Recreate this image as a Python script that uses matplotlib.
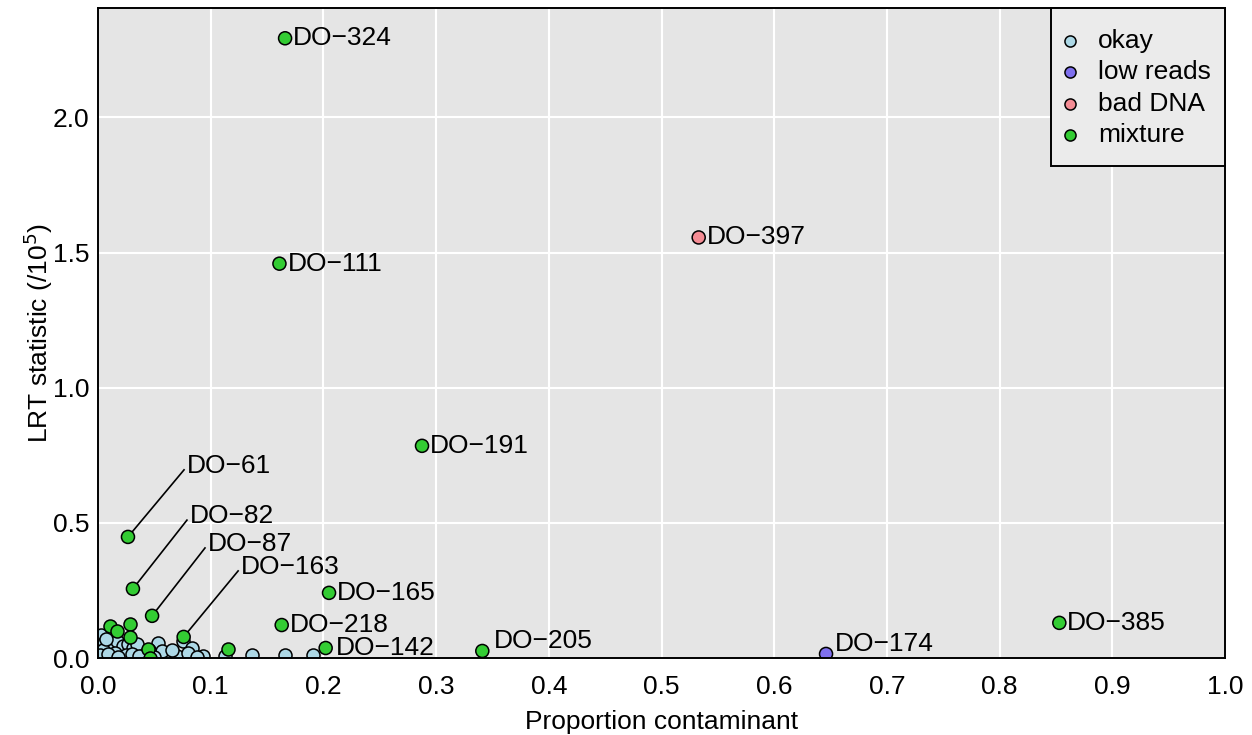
import numpy as np
import matplotlib
matplotlib.use("Agg")
import matplotlib.pyplot as plt
from matplotlib.patches import Rectangle

plt.rcParams["font.family"] = ["Liberation Sans", "DejaVu Sans"]

# --- data ---
okay_x = [0.003, 0.005, 0.008, 0.012, 0.017, 0.020, 0.022, 0.027, 0.031, 0.035,
          0.046, 0.053, 0.061, 0.070, 0.075, 0.083, 0.093, 0.113, 0.137, 0.166,
          0.191, 0.004, 0.010, 0.015, 0.025, 0.040, 0.057, 0.066, 0.080, 0.002,
          0.007, 0.030, 0.045, 0.009, 0.018, 0.036, 0.050, 0.088]
okay_y = [0.085, 0.056, 0.035, 0.052, 0.063, 0.018, 0.044, 0.052, 0.037, 0.052,
          0.015, 0.055, 0.008, 0.008, 0.062, 0.037, 0.006, 0.007, 0.012, 0.012,
          0.012, 0.030, 0.005, 0.020, 0.010, 0.003, 0.025, 0.030, 0.020, 0.010,
          0.070, 0.015, 0.030, 0.015, 0.004, 0.006, 0.002, 0.004]

mix_x = [0.011, 0.017, 0.028, 0.028, 0.044, 0.046, 0.115]
mix_y = [0.119, 0.100, 0.126, 0.078, 0.033, 0.000, 0.033]

# labelled samples: name, status, proportion, LRT (/1e5)
lab_names = ["DO-324", "DO-111", "DO-397", "DO-191", "DO-61", "DO-82", "DO-87",
             "DO-163", "DO-165", "DO-218", "DO-142", "DO-205", "DO-174", "DO-385"]
lab_status = ["mixture", "mixture", "bad DNA", "mixture", "mixture", "mixture",
              "mixture", "mixture", "mixture", "mixture", "mixture", "mixture",
              "low reads", "mixture"]
lab_x = [0.166, 0.161, 0.533, 0.2875, 0.0266, 0.031, 0.048, 0.076, 0.205, 0.163,
         0.202, 0.341, 0.646, 0.853]
lab_y = [2.293, 1.459, 1.556, 0.785, 0.448, 0.256, 0.156, 0.078, 0.241, 0.122,
         0.037, 0.026, 0.015, 0.130]

categories = ["okay", "low reads", "bad DNA", "mixture"]
colors = {"okay": "#ADD8E6", "low reads": "#7F70EE", "bad DNA": "#F48C94",
          "mixture": "#33CC33"}

# --- layout: label placement (offset in points) / leader-line label spots ---
px = 0.72  # points per pixel at dpi=100
offsets = {"DO-205": (12 * px, 10 * px), "DO-174": (9 * px, 10 * px),
           "DO-142": (10 * px, 0), }
leader = {"DO-61": (0.079, 0.711), "DO-82": (0.0816, 0.525),
          "DO-87": (0.0976, 0.422), "DO-163": (0.127, 0.337)}

W, H = 1252, 735
L, R, T, B = 98, 1225, 8, 658
fig = plt.figure(figsize=(W / 100, H / 100), dpi=100)
ax = fig.add_axes([L / W, 1 - B / H, (R - L) / W, (B - T) / H])
ax.set_facecolor("#E5E5E5")
ax.set_xlim(0, 1.0)
ax.set_ylim(0, 2.405)

xt = np.arange(0, 1.01, 0.1)
yt = np.arange(0, 2.01, 0.5)
for v in xt[1:-1]:
    ax.axvline(v, color="white", lw=1.5, zorder=0)
for v in yt[1:]:
    ax.axhline(v, color="white", lw=1.5, zorder=0)

ax.set_xticks(xt)
ax.set_xticklabels([f"{v:.1f}" for v in xt])
ax.set_yticks(yt)
ax.set_yticklabels([f"{v:.1f}" for v in yt])
ax.tick_params(length=0, labelsize=19)
ax.tick_params(axis="x", pad=12)
ax.tick_params(axis="y", pad=6)
for s in ax.spines.values():
    s.set_linewidth(1.4)
    s.set_zorder(5)

ms = 88
ekw = dict(edgecolors="black", linewidths=1.1, zorder=3)
ax.scatter(okay_x, okay_y, s=ms, c=colors["okay"], **ekw)
ax.scatter(mix_x, mix_y, s=ms, c=colors["mixture"], **ekw)
ax.scatter(lab_x, lab_y, s=ms, c=[colors[s] for s in lab_status], **ekw)

for name, x, y in zip(lab_names, lab_x, lab_y):
    txt = name.replace("-", "\u2212")
    if name in leader:
        tx, ty = leader[name]
        ax.text(tx, ty, txt, fontsize=19, ha="left", va="center", zorder=4)
        # leader line ends a bit left of / below the label
        ex = tx - 3 / 1127
        ey = ty - 4 / 270
        ax.plot([x, ex], [y, ey], color="black", lw=1.2, zorder=2)
    else:
        dx, dy = offsets.get(name, (8 * px, 0))
        ax.annotate(txt, (x, y), xytext=(dx, dy), textcoords="offset points",
                    fontsize=19, ha="left", va="center", zorder=4)

ax.set_xlabel("Proportion contaminant", fontsize=19, labelpad=8)
ax.set_ylabel(r"LRT statistic (/10$^5$)", fontsize=19, labelpad=-1.5)

# legend box drawn by hand, placed in pixel terms of the panel
def afx(p):
    return (p - L) / (R - L)

def afy(p):
    return (B - p) / (B - T)

ax.add_patch(Rectangle((afx(1051), afy(166)), afx(1225) - afx(1051),
                       afy(8) - afy(166), transform=ax.transAxes,
                       facecolor="#EBEBEB", edgecolor="black", lw=1.4,
                       clip_on=False, zorder=6))
for i, c in enumerate(categories):
    yy = afy(41 + i * 31.3)
    ax.plot([afx(1070)], [yy], marker="o", ms=8, mfc=colors[c], mec="black",
            mew=1.1, ls="", transform=ax.transAxes, clip_on=False, zorder=7)
    ax.text(afx(1098), yy, c, fontsize=19, ha="left", va="center",
            transform=ax.transAxes, zorder=7)

fig.savefig("out.png", dpi=100)
